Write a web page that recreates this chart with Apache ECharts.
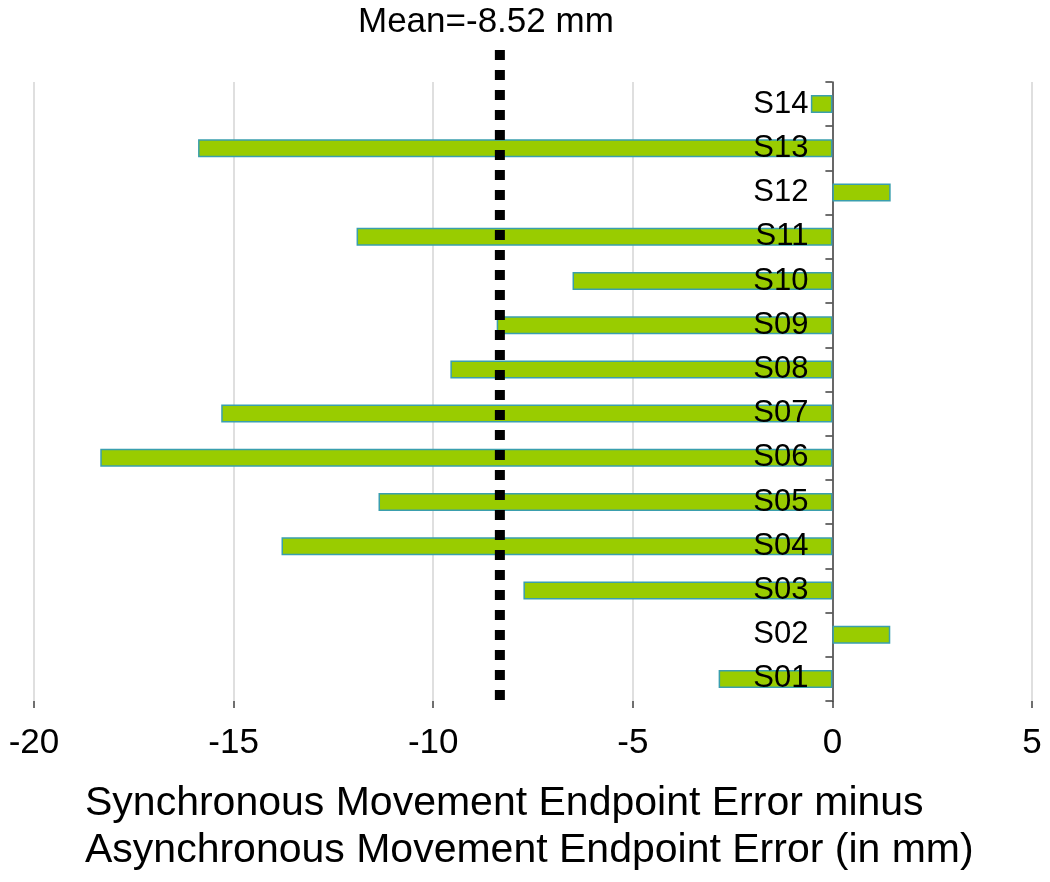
<!DOCTYPE html>
<html>
<head>
<meta charset="utf-8">
<script src="https://cdn.jsdelivr.net/npm/echarts@6/dist/echarts.min.js"></script>
<style>
  html, body { margin: 0; padding: 0; background: #fff; }
  #grafico { width: 1050px; height: 882px; }
</style>
</head>
<body>
<div id="grafico"></div>
<script>
// Datos
const sujetos = ['S01', 'S02', 'S03', 'S04', 'S05', 'S06', 'S07', 'S08', 'S09', 'S10', 'S11', 'S12', 'S13', 'S14'];
const diferencias = [-2.85, 1.45, -7.74, -13.8, -11.37, -18.34, -15.31, -9.57, -8.41, -6.51, -11.92, 1.46, -15.89, -0.54];
const ticksX = [-20, -15, -10, -5, 0, 5];
// posicion dibujada de la media (la etiqueta dice -8.52)
const mediaPos = -8.33;
const mediaTexto = 'Mean=-8.52 mm';
const tituloX = ['Synchronous Movement Endpoint Error minus', 'Asynchronous Movement Endpoint Error (in mm)'];

const fuente = '"Liberation Sans", Arial, sans-serif';

function iniciar() {
    const chartDom = document.getElementById('grafico');
    const myChart = echarts.init(chartDom, null, {renderer: 'canvas'});

    const option = {
        animation: false,
        grid: [
            {left: 34, right: 18, top: 82, bottom: 181, containLabel: false, outerBoundsMode: 'none'},
            // grid auxiliar para la linea de la media (sale por encima del area)
            {left: 34, right: 18, top: 50, bottom: 182, containLabel: false, outerBoundsMode: 'none'}
        ],
        xAxis: [
            {
                type: 'value',
                gridIndex: 0,
                min: ticksX[0],
                max: ticksX[ticksX.length - 1],
                interval: 5,
                axisLine: {onZero: false, lineStyle: {color: '#404040', width: 1.5}},
                axisTick: {show: true, length: 7, lineStyle: {color: '#404040', width: 1.5}},
                axisLabel: {color: '#000', fontSize: 35, fontFamily: fuente, margin: 25},
                splitLine: {show: true, lineStyle: {color: '#d4d4d4', width: 1.5}}
            },
            {
                type: 'value',
                gridIndex: 1,
                min: ticksX[0],
                max: ticksX[ticksX.length - 1],
                show: false
            }
        ],
        yAxis: [
            {
                type: 'category',
                gridIndex: 0,
                data: sujetos,
                axisLine: {onZero: true, lineStyle: {color: '#404040', width: 1.5}},
                axisTick: {show: true, length: 7, lineStyle: {color: '#404040', width: 1.5}},
                axisLabel: {show: false},
                splitLine: {show: false}
            },
            {
                type: 'value',
                gridIndex: 1,
                min: 0,
                max: 1,
                show: false
            }
        ],
        graphic: [
            {
                type: 'text',
                left: 85,
                top: 780,
                style: {
                    text: tituloX.join('\n'),
                    font: '41px ' + fuente,
                    lineHeight: 47,
                    fill: '#000',
                    align: 'left'
                }
            },
            {
                type: 'text',
                left: 358,
                top: 5,
                style: {
                    text: mediaTexto,
                    font: '35px ' + fuente,
                    fill: '#000'
                }
            }
        ],
        series: [
            {
                name: 'Diferencia',
                type: 'bar',
                xAxisIndex: 0,
                yAxisIndex: 0,
                barWidth: 18,
                z: 2,
                itemStyle: {color: '#99cc00', borderColor: '#3a9fae', borderWidth: 1.5},
                data: diferencias
            },
            {
                // etiquetas de los sujetos junto al eje en cero, por encima de las barras
                name: 'Etiquetas',
                type: 'bar',
                xAxisIndex: 0,
                yAxisIndex: 0,
                barWidth: 18,
                barGap: '-100%',
                z: 6,
                silent: true,
                itemStyle: {color: 'rgba(0,0,0,0)'},
                label: {
                    show: true,
                    position: 'left',
                    distance: 24,
                    formatter: '{b}',
                    color: '#000',
                    fontSize: 31,
                    fontFamily: fuente
                },
                data: sujetos.map(() => 0)
            },
            {
                name: 'Media',
                type: 'line',
                xAxisIndex: 1,
                yAxisIndex: 1,
                symbol: 'none',
                z: 5,
                lineStyle: {color: '#000', width: 10, type: [10, 10], cap: 'butt'},
                data: [[mediaPos, 1], [mediaPos, 0]]
            }
        ]
    };

    myChart.setOption(option);
}

iniciar();
</script>
</body>
</html>
